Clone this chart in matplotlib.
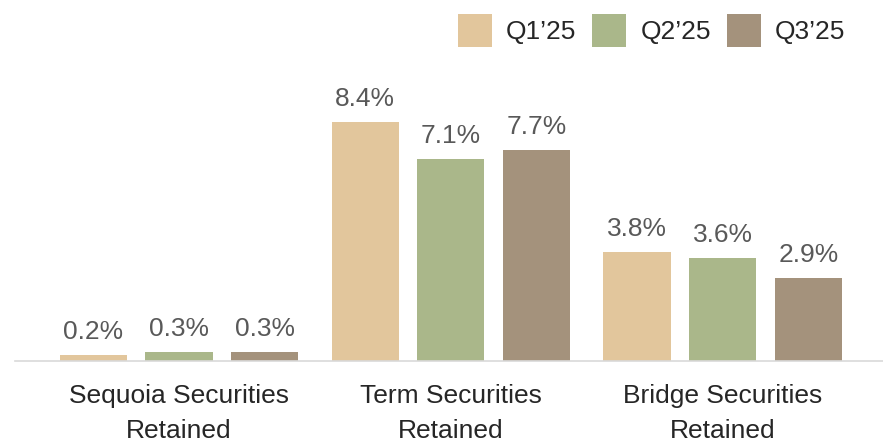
import matplotlib.pyplot as plt
import numpy as np

plt.rcParams['font.family'] = ['Liberation Sans', 'DejaVu Sans']

# Datos
categorias = ['Sequoia Securities\nRetained', 'Term Securities\nRetained', 'Bridge Securities\nRetained']
series = ['Q1\u201925', 'Q2\u201925', 'Q3\u201925']
# alturas de barra
q1 = [0.2, 8.4, 3.8]
q2 = [0.3, 7.1, 3.6]
q3 = [0.3, 7.4, 2.9]
# etiquetas tal como aparecen
etiquetas_q1 = ['0.2%', '8.4%', '3.8%']
etiquetas_q2 = ['0.3%', '7.1%', '3.6%']
etiquetas_q3 = ['0.3%', '7.7%', '2.9%']
colores = ['#E2C69C', '#AAB78A', '#A4927C']

fig = plt.figure(figsize=(8.83, 4.42), dpi=100)
ax = fig.add_axes([15 / 883, 81.5 / 442, 868 / 883, 360.5 / 442])

x = np.arange(len(categorias))
ancho = 0.247
desp = 0.315

datos = zip([q1, q2, q3], [etiquetas_q1, etiquetas_q2, etiquetas_q3], series, colores)
for i, (vals, etqs, nombre, color) in enumerate(datos):
    barras = ax.bar(x + (i - 1) * desp, vals, width=ancho, color=color, label=nombre)
    for b, v, t in zip(barras, vals, etqs):
        ax.annotate(t, (b.get_x() + b.get_width() / 2, v),
                    xytext=(0, 8), textcoords='offset points',
                    ha='center', va='bottom', fontsize=19, color='#595959')

ax.set_xlim(-0.6035, 2.59)
ax.set_ylim(0, 360.5 / 28.43)
ax.set_xticks(x)
ax.set_xticklabels(categorias, fontsize=19, color='#262626', linespacing=1.55)
ax.tick_params(axis='x', length=0, pad=17)
ax.set_yticks([])
for lado in ['top', 'right', 'left']:
    ax.spines[lado].set_visible(False)
ax.spines['bottom'].set_color('#D9D9D9')
ax.spines['bottom'].set_linewidth(1.2)

fig.legend(loc='upper right', bbox_to_anchor=(0.984, 1.023), ncol=3, frameon=False,
           fontsize=19, handlelength=1.29, handleheight=1.6, handletextpad=0.53,
           columnspacing=0.6, labelcolor='#262626')

plt.savefig('out.png', dpi=100)
